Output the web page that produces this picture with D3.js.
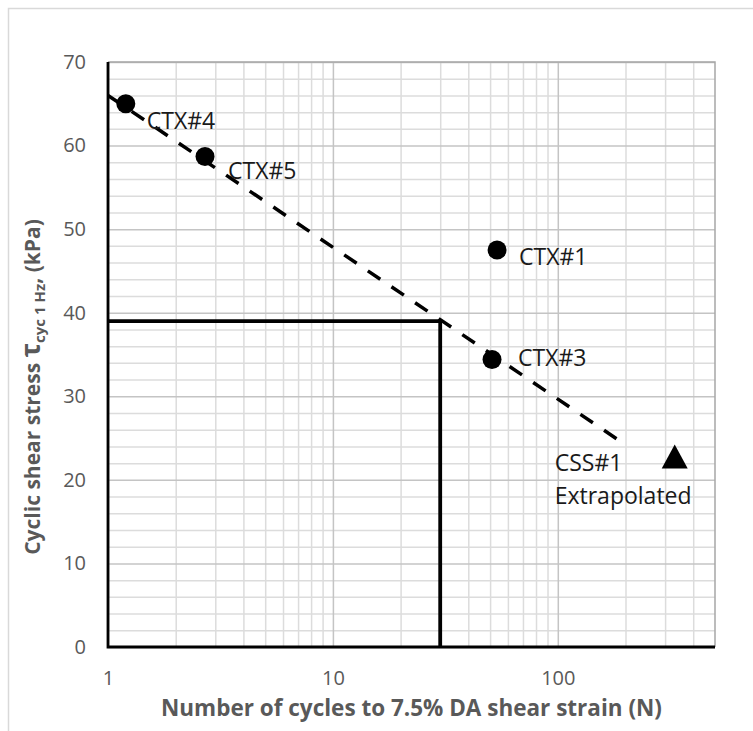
<!DOCTYPE html>
<html>
<head>
<meta charset="utf-8">
<script src="https://cdn.jsdelivr.net/npm/d3@7"></script>
<style>
  body { margin: 0; background: #fff; }
  svg { display: block; }
  text { font-family: "Open Sans", Lato, sans-serif; }
</style>
</head>
<body>
<svg id="chart" width="753" height="731"></svg>
<script>
// Cyclic triaxial tests: cycles to 7.5% DA strain vs cyclic shear stress
const specimens = ["CTX#4", "CTX#5", "CTX#1", "CTX#3"];
const cyclesN   = [1.2, 2.7, 53.7, 51];
const tauCyc    = [65.0, 58.7, 47.5, 34.4];

// Cyclic simple shear result (extrapolated)
const cssLabel = ["CSS#1", "Extrapolated"];
const cssN     = [331];
const cssTau   = [22.8];

// Fitted trend (straight on log-N axis), end points
const trendN   = [1, 183];
const trendTau = [66, 24.9];

// Design reading: tau = 39 kPa at N = 30
const designN   = [1, 30, 30];
const designTau = [39, 39, 0];

// Axis ticks
const xTickValues = [1, 10, 100];
const xTickLabels = ["1", "10", "100"];
const yTickValues = [0, 10, 20, 30, 40, 50, 60, 70];

// Label placement relative to each marker (px)
const labelDx = [21, 23, 22, 26];
const labelDy = [17, 14, 7, -2];

const svg = d3.select("#chart");
const W = 753, H = 731;
const plot = { left: 108, right: 715, top: 62, bottom: 647 };

svg.append("rect").attr("width", W).attr("height", H).attr("fill", "#fff");
// outer chart frame
svg.append("rect")
  .attr("x", 8.5).attr("y", 8.5).attr("width", 800).attr("height", 800)
  .attr("fill", "none").attr("stroke", "#d9d9d9").attr("stroke-width", 1.5);

const x = d3.scaleLog().domain([1, 500]).range([plot.left, plot.right]);
const y = d3.scaleLinear().domain([0, 70]).range([plot.bottom, plot.top]);

// minor / major gridlines
const minorX = [];
for (let k = 1; k <= 100; k *= 10) {
  for (let m = 2; m <= 9; m++) { if (m * k < 500) minorX.push(m * k); }
}
const minorY = d3.range(0, 71, 2).filter(v => v % 10 !== 0);
const majorY = yTickValues;

const grid = svg.append("g");
function gridLayer(axis, tr, color) {
  grid.append("g").attr("transform", tr).call(axis)
    .call(g => g.select(".domain").remove())
    .call(g => g.selectAll("line").attr("stroke", color).attr("stroke-width", 1.5));
}
const ph = plot.bottom - plot.top, pw = plot.right - plot.left;
gridLayer(d3.axisBottom(x).tickValues(minorX).tickSize(-ph).tickFormat(""), `translate(0,${plot.bottom})`, "#dcdcdc");
gridLayer(d3.axisLeft(y).tickValues(minorY).tickSize(-pw).tickFormat(""), `translate(${plot.left},0)`, "#dcdcdc");
gridLayer(d3.axisBottom(x).tickValues(xTickValues).tickSize(-ph).tickFormat(""), `translate(0,${plot.bottom})`, "#c4c4c4");
gridLayer(d3.axisLeft(y).tickValues(majorY).tickSize(-pw).tickFormat(""), `translate(${plot.left},0)`, "#c4c4c4");

// top and right plot border
svg.append("path")
  .attr("d", `M${plot.left},${plot.top}H${plot.right}V${plot.bottom}`)
  .attr("fill", "none").attr("stroke", "#a6a6a6").attr("stroke-width", 1.5);

// design reading lines
const line = d3.line().x(d => x(d[0])).y(d => y(d[1]));
svg.append("path")
  .attr("d", line(d3.zip(designN, designTau)))
  .attr("fill", "none").attr("stroke", "#000").attr("stroke-width", 3.8);

// trend line (dashed)
svg.append("path")
  .attr("d", line(d3.zip(trendN, trendTau)))
  .attr("fill", "none").attr("stroke", "#000").attr("stroke-width", 3.5)
  .attr("stroke-dasharray", "15 13.5");

// axes
const xAxis = svg.append("g").attr("transform", `translate(0,${plot.bottom})`)
  .call(d3.axisBottom(x).tickValues(xTickValues)
    .tickFormat((d, i) => xTickLabels[i]).tickSize(0).tickPadding(24));
const yAxis = svg.append("g").attr("transform", `translate(${plot.left},0)`)
  .call(d3.axisLeft(y).tickValues(yTickValues).tickSize(0).tickPadding(22));
[xAxis, yAxis].forEach(g => {
  g.select(".domain").remove();
  g.selectAll("text").attr("fill", "#595959").style("font-size", "20px")
    .style("font-family", "'Open Sans', Lato, sans-serif");
});
svg.append("path")
  .attr("d", `M${plot.left},${plot.top}V${plot.bottom}H${plot.right}`)
  .attr("fill", "none").attr("stroke", "#000").attr("stroke-width", 2.8);

// markers
const pts = d3.zip(cyclesN, tauCyc);
svg.append("g").selectAll("circle").data(pts).join("circle")
  .attr("cx", d => x(d[0])).attr("cy", d => y(d[1])).attr("r", 9.5).attr("fill", "#000");

const triW = 26, triH = 24;
svg.append("g").selectAll("path").data(d3.zip(cssN, cssTau)).join("path")
  .attr("transform", d => `translate(${x(d[0])},${y(d[1])})`)
  .attr("d", `M0,${-triH / 2}L${triW / 2},${triH / 2}L${-triW / 2},${triH / 2}Z`)
  .attr("fill", "#000");

// data labels
svg.append("g").selectAll("text").data(pts).join("text")
  .attr("x", (d, i) => x(d[0]) + labelDx[i])
  .attr("y", (d, i) => y(d[1]) + labelDy[i])
  .attr("dy", "0.36em")
  .attr("fill", "#1a1a1a").style("font-size", "23px")
  .text((d, i) => specimens[i]);

const cssG = svg.append("g");
cssLabel.forEach((t, i) => {
  cssG.append("text")
    .attr("x", x(cssN[0]) - 120)
    .attr("y", y(cssTau[0]) + 6 + i * 33)
    .attr("dy", "0.36em")
    .attr("fill", "#1a1a1a").style("font-size", "23px")
    .text(t);
});

// axis titles
svg.append("text")
  .attr("x", (plot.left + plot.right) / 2).attr("y", 716)
  .attr("text-anchor", "middle").attr("fill", "#595959")
  .style("font-size", "22.5px").style("font-weight", "bold")
  .text("Number of cycles to 7.5% DA shear strain (N)");

const yt = svg.append("text")
  .attr("transform", "translate(40,387) rotate(-90)")
  .attr("text-anchor", "middle").attr("fill", "#595959")
  .style("font-size", "21px").style("font-weight", "bold");
yt.append("tspan").text("Cyclic shear stress  ");
yt.append("tspan").style("font-size", "27px").text("τ");
yt.append("tspan").attr("dy", 5).style("font-size", "15px").text("cyc 1 Hz");
yt.append("tspan").attr("dy", -5).text(", (kPa)");
</script>
</body>
</html>
